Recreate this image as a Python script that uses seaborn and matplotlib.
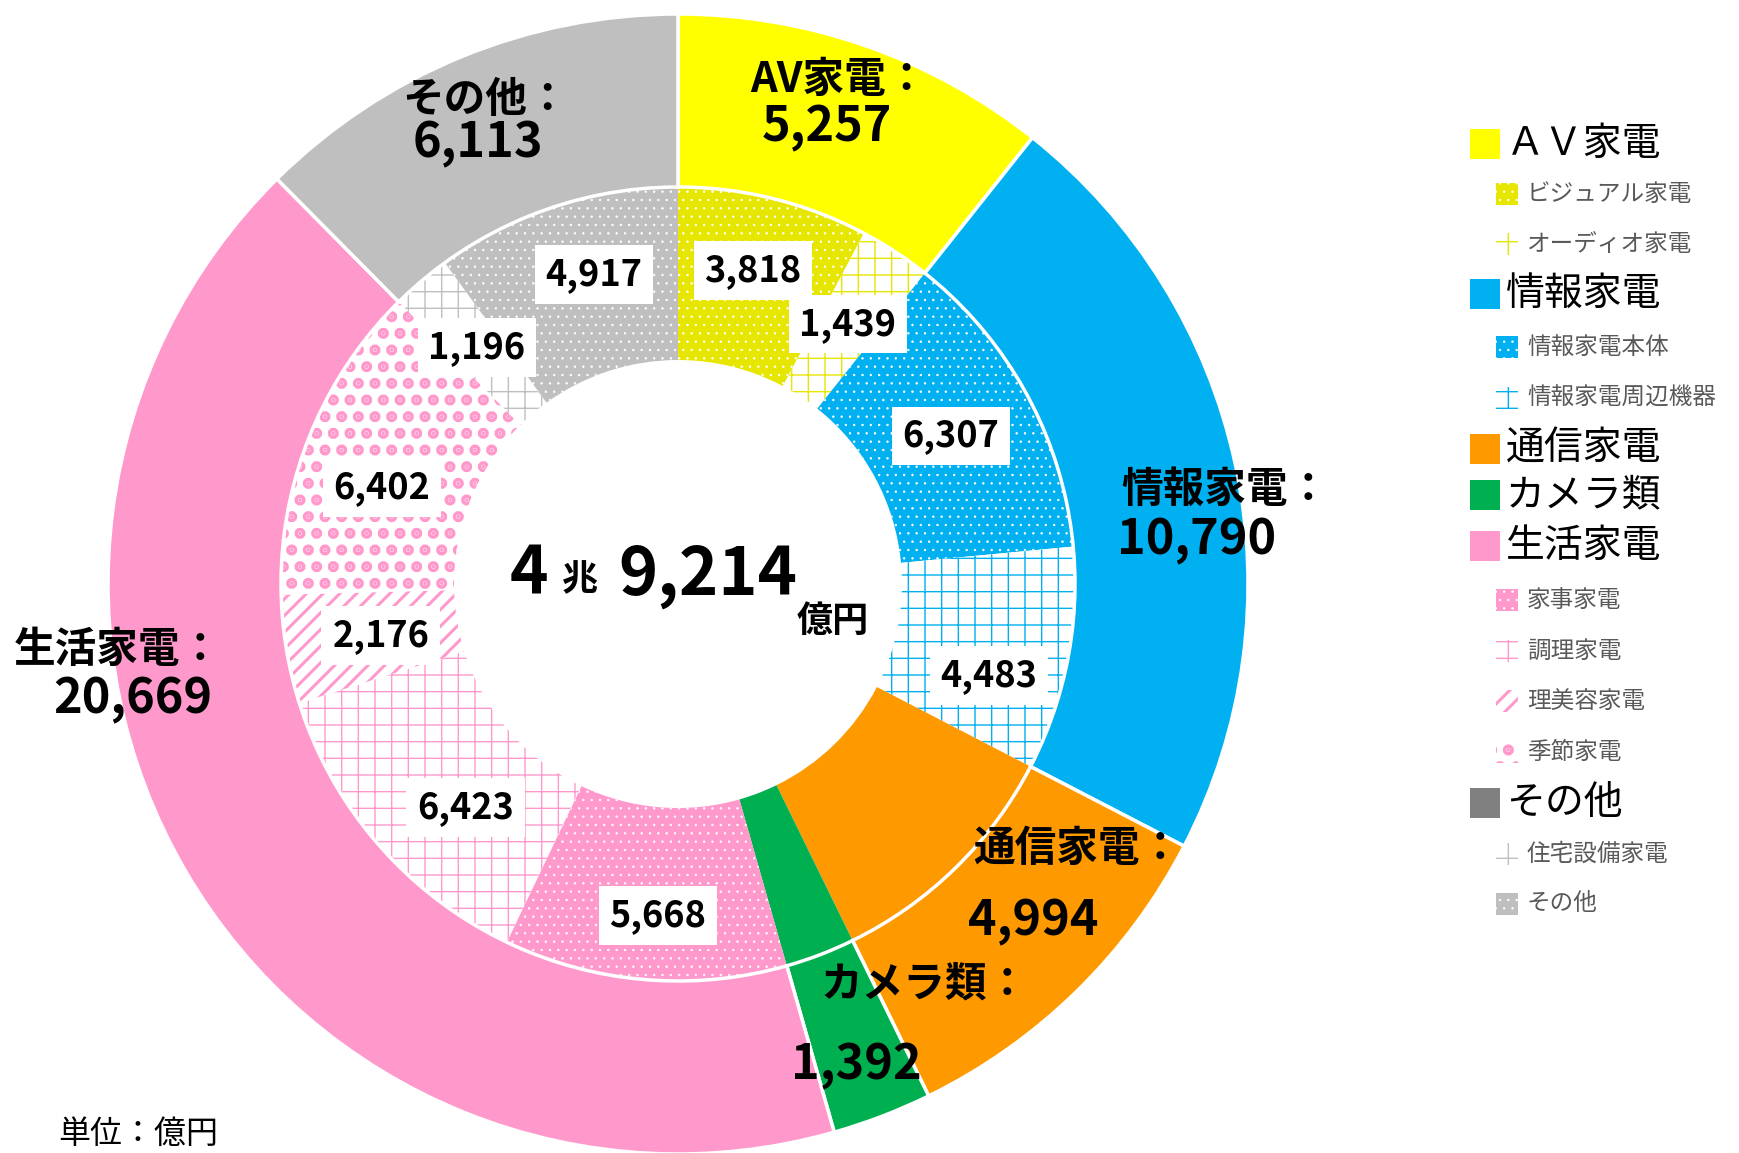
import matplotlib
matplotlib.use("Agg")
import matplotlib.pyplot as plt
from matplotlib.patches import Rectangle
import seaborn as sns
import numpy as np

# ---------------------------------------------------------------
# data: outer ring = category totals, inner ring = sub categories
# (clockwise from 12 o'clock, unit: 億円)
# ---------------------------------------------------------------
GROUPS = ["AV家電", "情報家電", "通信家電", "カメラ類", "生活家電", "その他"]
GROUP_VALUES = [5257, 10790, 4994, 1392, 20669, 6113]
GROUP_COLORS = ["#FFFF00", "#00B0F0", "#FF9900", "#00B050", "#FF99CC", "#BFBFBF"]
LEGEND_GROUP_NAMES = ["ＡＶ家電", "情報家電", "通信家電", "カメラ類", "生活家電", "その他"]
LEGEND_GROUP_COLORS = ["#FFFF00", "#00B0F0", "#FF9900", "#00B050", "#FF99CC", "#808080"]

SUB_NAMES = ["ビジュアル家電", "オーディオ家電", "情報家電本体", "情報家電周辺機器",
             "通信家電", "カメラ類", "家事家電", "調理家電", "理美容家電", "季節家電",
             "住宅設備家電", "その他"]
SUB_VALUES = [3818, 1439, 6307, 4483, 4994, 1392, 5668, 6423, 2176, 6402, 1196, 4917]
SUB_IN_LEGEND = [True, True, True, True, False, False, True, True, True, True, True, True]

TOTAL_TEXT = ("4", "兆", "9,214", "億円")

# face, hatch colour, hatch, hatch linewidth
SUB_STYLE = [
    ("#E6E600", "white", "..", 0.5),
    ("white", "#E6E600", "+", 1.0),
    ("#00B0F0", "white", "..", 0.5),
    ("white", "#00B0F0", "+", 1.0),
    ("#FF9900", None, None, 0),
    ("#00B050", None, None, 0),
    ("#FF99CC", "white", "..", 0.5),
    ("white", "#FF99CC", "+", 1.0),
    ("white", "#FF99CC", "//", 2.2),
    ("white", "#FF99CC", ".", 5.5),
    ("white", "#BFBFBF", "+", 1.0),
    ("#BFBFBF", "white", "..", 0.5),
]
# small nudges of the inner value boxes (px)
LABEL_NUDGE = [(0, -12), (0, 0), (0, 0), (6, 32), (0, 0), (0, 0),
               (6, 22), (22, 20), (9, 0), (-8, 19), (0, 0), (12, -14)]

# ---------------------------------------------------------------
W, H = 1740, 1153
CX, CY, R_PX = 678, 584, 570
R_MID = 397 / R_PX
R_HOLE = 224 / R_PX

sns.set_theme(style="white")
plt.rcParams["font.family"] = ["Noto Sans CJK JP", "DejaVu Sans"]
plt.rcParams["text.color"] = "black"

fig = plt.figure(figsize=(W / 100, H / 100), dpi=100)
ax = fig.add_axes([(CX - R_PX) / W, (H - CY - R_PX) / H, 2 * R_PX / W, 2 * R_PX / H])


def fx(x):
    return x / W


def fy(y):
    return 1 - y / H


# inner ring
inner_wedges, _ = ax.pie(SUB_VALUES, radius=R_MID, startangle=90, counterclock=False,
                         colors=[s[0] for s in SUB_STYLE],
                         wedgeprops=dict(width=R_MID - R_HOLE, linewidth=0))
for w, (fc, hc, h, hlw) in zip(inner_wedges, SUB_STYLE):
    if h:
        w.set_edgecolor(hc)
        w.set_linewidth(0)
        w.set_hatch(h)
        if hasattr(w, "set_hatch_linewidth"):
            w.set_hatch_linewidth(hlw)

# outer ring
outer_wedges, _ = ax.pie(GROUP_VALUES, radius=1.0, startangle=90, counterclock=False,
                         colors=GROUP_COLORS,
                         wedgeprops=dict(width=1 - R_MID, edgecolor="white", linewidth=2.5))
ax.set_xlim(-1, 1)
ax.set_ylim(-1, 1)
ax.set_axis_off()

# inner labels (white boxes)
r_lab = (R_MID + R_HOLE) / 2
for w, v, show, (dx, dy) in zip(inner_wedges, SUB_VALUES, SUB_IN_LEGEND, LABEL_NUDGE):
    if not show:
        continue
    ang = np.deg2rad((w.theta1 + w.theta2) / 2)
    ax.text(r_lab * np.cos(ang) + dx / R_PX, r_lab * np.sin(ang) - dy / R_PX, f"{v:,}",
            ha="center", va="center", fontsize=26, fontweight="bold", color="black",
            bbox=dict(boxstyle="square,pad=0.3", fc="white", ec="none"))

# outer labels: (name left x, name y, value left x, value y) in px
OUTER_POS = [
    (750, 80, 762, 128),
    (1121, 490, 1117, 541),
    (973, 849, 968, 921),
    (821, 985, 791, 1065),
    (14, 650, 53, 699),
    (402, 100, 413, 144),
]
for name, v, (nx, ny, vx, vy) in zip(GROUPS, GROUP_VALUES, OUTER_POS):
    fig.text(fx(nx), fy(ny), name + "：", ha="left", va="center", fontsize=30,
             fontweight="bold", color="black")
    fig.text(fx(vx), fy(vy), f"{v:,}", ha="left", va="center", fontsize=35,
             fontweight="bold", color="black")

# centre total
fig.text(fx(510), fy(595), TOTAL_TEXT[0], ha="left", va="baseline", fontsize=47,
         fontweight="bold", color="black")
fig.text(fx(562), fy(590), TOTAL_TEXT[1], ha="left", va="baseline", fontsize=26,
         fontweight="bold", color="black")
fig.text(fx(618), fy(595), TOTAL_TEXT[2], ha="left", va="baseline", fontsize=48,
         fontweight="bold", color="black")
fig.text(fx(797), fy(632), TOTAL_TEXT[3], ha="left", va="baseline", fontsize=26,
         fontweight="bold", color="black")

# legend (drawn by hand: two sizes of entries)
LEG_ROWS = [("g", 0, 144), ("s", 0, 194), ("s", 1, 244),
            ("g", 1, 294), ("s", 2, 347), ("s", 3, 398),
            ("g", 2, 449), ("g", 3, 495),
            ("g", 4, 546), ("s", 6, 600), ("s", 7, 651), ("s", 8, 701), ("s", 9, 752),
            ("g", 5, 803), ("s", 10, 854), ("s", 11, 904)]
for kind, i, y in LEG_ROWS:
    if kind == "g":
        sq = 30
        fig.add_artist(Rectangle((fx(1470), fy(y + sq / 2)), sq / W, sq / H,
                                 transform=fig.transFigure, fc=LEGEND_GROUP_COLORS[i], ec="none"))
        fig.text(fx(1506), fy(y), LEGEND_GROUP_NAMES[i], ha="left", va="center",
                 fontsize=28, color="black")
    else:
        sq = 22
        fc, hc, h, hlw = SUB_STYLE[i]
        p = Rectangle((fx(1496), fy(y + sq / 2)), sq / W, sq / H, transform=fig.transFigure,
                      fc=fc, ec=hc, lw=0, hatch=h)
        if hasattr(p, "set_hatch_linewidth"):
            p.set_hatch_linewidth(hlw)
        fig.add_artist(p)
        fig.text(fx(1527), fy(y), SUB_NAMES[i], ha="left", va="center",
                 fontsize=17, color="#595959")

fig.text(fx(58), fy(1134), "単位：億円", ha="left", va="center", fontsize=23, color="black")

fig.savefig("out.png", dpi=100)
